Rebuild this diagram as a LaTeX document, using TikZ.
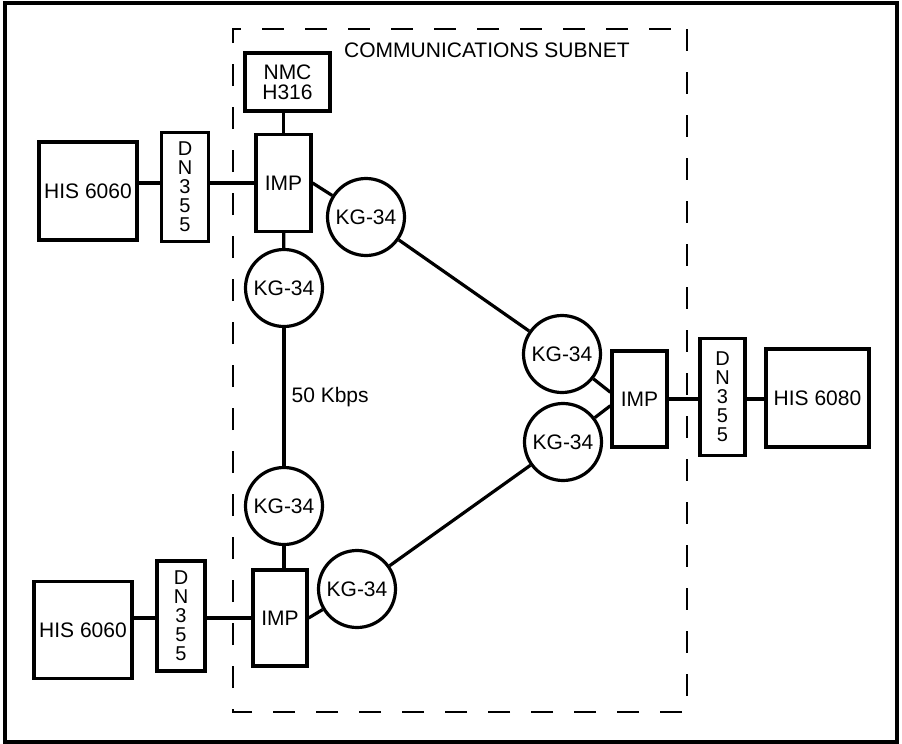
\documentclass[tikz,border=0pt]{standalone}
\usepackage{fontspec}
\setmainfont{Liberation Sans}
\usepackage{tikz}

\begin{document}
\begin{tikzpicture}[x=1pt,y=-1pt,font=\fontsize{21}{21}\selectfont]
\useasboundingbox (0,0) rectangle (902,744);
\draw[line width=3.2pt] (5,3) rectangle (897,742);
\draw[line width=2.4pt,dash pattern=on 22pt off 21pt] (687,29) -- (687,712) -- (233,712) -- (233,29) -- cycle;
\node[anchor=west,inner sep=0pt] (SUB) at (344,50) {COMMUNICATIONS SUBNET};

\begin{scope}[every node/.style={rectangle,draw,line width=3.2pt,inner sep=0pt,align=center}]
\node[minimum width=98pt,minimum height=98pt] (H1) at (88,191) {HIS 6060};
\node[minimum width=47pt,minimum height=109pt,font=\fontsize{20}{19}\selectfont] (D1) at (185,187) {D\\N\\3\\5\\5};
\node[minimum width=55pt,minimum height=97pt] (I1) at (283.5,183) {IMP};
\node[minimum width=85pt,minimum height=58pt,font=\fontsize{21}{20}\selectfont] (N) at (287.5,82) {NMC\\H316};
\node[minimum width=98pt,minimum height=97pt] (H2) at (83,630) {HIS 6060};
\node[minimum width=48pt,minimum height=110pt,font=\fontsize{20}{19}\selectfont] (D2) at (181,616) {D\\N\\3\\5\\5};
\node[minimum width=54pt,minimum height=96pt] (I2) at (280,618) {IMP};
\node[minimum width=55pt,minimum height=96pt] (I3) at (639.5,399) {IMP};
\node[minimum width=45pt,minimum height=117pt,font=\fontsize{20}{19}\selectfont] (D3) at (722.5,397) {D\\N\\3\\5\\5};
\node[minimum width=103pt,minimum height=98pt] (H3) at (817.5,398) {HIS 6080};
\end{scope}

\begin{scope}[every node/.style={circle,draw,line width=3.2pt,inner sep=0pt,minimum size=77pt}]
\node (K1) at (366,217) {KG-34};
\node (K2) at (284,288) {KG-34};
\node (K3) at (284,506) {KG-34};
\node (K4) at (357,589) {KG-34};
\node (K5) at (562,354) {KG-34};
\node (K6) at (563,442) {KG-34};
\end{scope}

\begin{scope}[every path/.style={line width=3.2pt}]
\draw (I1.north) -- (I1.north |- N.south);
\draw (I1.west) -- (I1.west -| D1.east);
\draw (D1.west |- I1.west) -- (H1.east |- I1.west);
\draw (I1.east) -- (K1);
\draw (I1) -- (K2);
\draw (K2) -- (K3) node[pos=0.5,anchor=west,inner sep=0pt,xshift=6pt] (RATE) {50 Kbps};
\draw (K3) -- (K3 |- I2.north);
\draw (I2.west) -- (I2.west -| D2.east);
\draw (D2.west |- I2.west) -- (H2.east |- I2.west);
\draw (I2.east) -- (K4);
\draw (K1) -- (K5);
\draw (K4) -- (K6);
\draw (K5) -- (I3.167);
\draw (K6) -- (I3.193);
\draw (I3.east) -- (I3.east -| D3.west);
\draw (D3.east |- I3.east) -- (H3.west |- I3.east);
\end{scope}
\end{tikzpicture}
\end{document}
